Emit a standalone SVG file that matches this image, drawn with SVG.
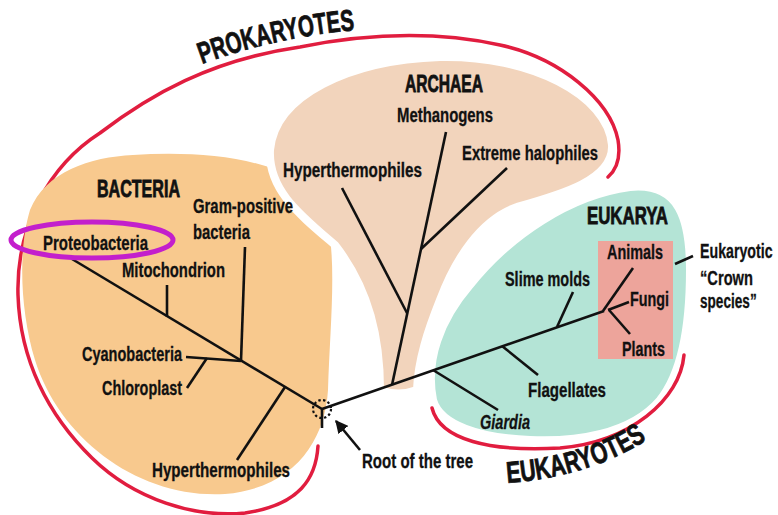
<svg xmlns="http://www.w3.org/2000/svg" width="778" height="515" viewBox="0 0 778 515">
<style>
.lbl{font-family:"Liberation Sans",Arial,sans-serif;font-weight:bold;font-size:20px;fill:#111;stroke:#111;stroke-width:0.3}
.ttl{font-family:"Liberation Sans",Arial,sans-serif;font-weight:bold;font-size:23px;fill:#111;stroke:#111;stroke-width:0.8}
.big{font-family:"Liberation Sans",Arial,sans-serif;font-weight:bold;font-size:30px;fill:#111;stroke:#111;stroke-width:0.8}
.br{fill:none;stroke:#111;stroke-width:2.6}
.red{fill:none;stroke:#E11D3F;stroke-width:3.5;stroke-linecap:round}
</style>
<defs>
<marker id="ah" viewBox="0 0 10 10" refX="9" refY="5" markerWidth="5" markerHeight="5" orient="auto" markerUnits="strokeWidth">
<path d="M0,0 L10,5 L0,10 Z" fill="#111"/>
</marker>
<path id="pkPath" d="M202,64 Q275,37 356,30"/>
<path id="ekPath" d="M507,483 Q590,477 648,439"/>
</defs>
<rect width="778" height="515" fill="#fff"/>

<g id="prokaryotes">
<path class="red" d="M318,446 C316,478 300,505 245,513 C195,518 135,500 92,458 C48,415 20,360 18,295 C16,225 50,165 100,133 C150,95 210,60 300,47 C370,33 440,32 500,45 C560,58 610,100 618,140 C621,158 616,170 608,177"/>
<text class="big"><textPath href="#pkPath" textLength="157" lengthAdjust="spacingAndGlyphs">PROKARYOTES</textPath></text>
</g>

<g id="bacteria">
<path fill="#F8C98E" d="M133,155 C210,150 290,160 320,200 C340,240 330,320 328,390 C325,440 295,488 225,494 C140,499 60,440 35,360 C20,310 18,250 30,210 C45,172 90,157 133,155 Z"/>
<text class="ttl" x="97" y="197" textLength="83" lengthAdjust="spacingAndGlyphs">BACTERIA</text>
</g>

<g id="archaea">
<path fill="#F2D4BC" stroke="#fff" stroke-width="8" d="M380,390 C380,340 370,290 335,245 C300,215 268,190 270,150 C275,95 350,60 440,57 C530,55 608,95 612,145 C614,180 560,195 517,207 C480,220 455,260 440,300 C428,330 418,360 417,390 Q398,397 380,390 Z"/>
<text class="ttl" x="405" y="92" textLength="78" lengthAdjust="spacingAndGlyphs">ARCHAEA</text>
</g>

<g id="eukarya">
<path fill="#B4E4D6" stroke="#fff" stroke-width="8" d="M433,400 C425,360 440,320 470,285 C510,235 570,195 630,187 C680,182 690,220 690,270 C690,320 684,370 660,400 C630,435 575,442 530,440 C480,438 440,425 433,400 Z"/>
<text class="ttl" x="587" y="224" textLength="81" lengthAdjust="spacingAndGlyphs">EUKARYA</text>
</g>

<g id="crown-box">
<rect x="598" y="241" width="75" height="118" fill="#EDA49B"/>
</g>

<g id="eukaryotes">
<path class="red" d="M432,408 C440,440 490,452 560,448 C630,442 680,400 684,355"/>
<text class="big"><textPath href="#ekPath" textLength="148" lengthAdjust="spacingAndGlyphs">EUKARYOTES</textPath></text>
</g>

<g id="connectors">
<line class="br" x1="322" y1="409" x2="72" y2="259"/>
<line class="br" x1="167" y1="285" x2="167" y2="317"/>
<line class="br" x1="245" y1="247" x2="241" y2="361"/>
<line class="br" x1="186" y1="357" x2="241" y2="361"/>
<line class="br" x1="207" y1="358" x2="187" y2="388"/>
<line class="br" x1="285" y1="387" x2="237" y2="460"/>
<line class="br" x1="322" y1="409" x2="322" y2="428"/>
<line class="br" x1="322" y1="409" x2="604" y2="311"/>
<line class="br" x1="392" y1="385" x2="446" y2="132"/>
<line class="br" x1="407" y1="313" x2="342" y2="188"/>
<line class="br" x1="421" y1="249" x2="507" y2="168"/>
<line class="br" x1="557" y1="327" x2="573" y2="292"/>
<line class="br" x1="502" y1="346" x2="538" y2="375"/>
<line class="br" x1="433" y1="370" x2="498" y2="410"/>
<line class="br" x1="603" y1="311" x2="633" y2="268"/>
<line class="br" x1="608" y1="310" x2="629" y2="302"/>
<line class="br" x1="609" y1="310" x2="630" y2="334"/>
<line class="br" x1="675" y1="264" x2="693" y2="256"/>
<circle cx="322" cy="409" r="9" fill="none" stroke="#111" stroke-width="2.2" stroke-dasharray="2.4 2.4"/>
<line class="br" x1="360" y1="450" x2="336" y2="421" marker-end="url(#ah)"/>
</g>

<g id="labels">
<text class="lbl" x="397" y="122" textLength="96" lengthAdjust="spacingAndGlyphs">Methanogens</text>
<text class="lbl" x="462" y="160" textLength="136" lengthAdjust="spacingAndGlyphs">Extreme halophiles</text>
<text class="lbl" x="283" y="177" textLength="139" lengthAdjust="spacingAndGlyphs">Hyperthermophiles</text>
<text class="lbl" x="193" y="213" textLength="100" lengthAdjust="spacingAndGlyphs">Gram-positive</text>
<text class="lbl" x="193" y="239" textLength="57" lengthAdjust="spacingAndGlyphs">bacteria</text>
<text class="lbl" x="43" y="250" textLength="105" lengthAdjust="spacingAndGlyphs">Proteobacteria</text>
<text class="lbl" x="122" y="277" textLength="103" lengthAdjust="spacingAndGlyphs">Mitochondrion</text>
<text class="lbl" x="82" y="361" textLength="100" lengthAdjust="spacingAndGlyphs">Cyanobacteria</text>
<text class="lbl" x="102" y="395" textLength="80" lengthAdjust="spacingAndGlyphs">Chloroplast</text>
<text class="lbl" x="152" y="477" textLength="138" lengthAdjust="spacingAndGlyphs">Hyperthermophiles</text>
<text class="lbl" x="362" y="468" textLength="111" lengthAdjust="spacingAndGlyphs">Root of the tree</text>
<text class="lbl" x="607" y="259" textLength="56" lengthAdjust="spacingAndGlyphs">Animals</text>
<text class="lbl" x="630" y="306" textLength="39" lengthAdjust="spacingAndGlyphs">Fungi</text>
<text class="lbl" x="622" y="356" textLength="43" lengthAdjust="spacingAndGlyphs">Plants</text>
<text class="lbl" x="505" y="286" textLength="85" lengthAdjust="spacingAndGlyphs">Slime molds</text>
<text class="lbl" transform="translate(700,258) scale(0.71,1)" x="0" y="0">Eukaryotic</text>
<text class="lbl" x="700" y="285" textLength="53" lengthAdjust="spacingAndGlyphs">“Crown</text>
<text class="lbl" transform="translate(700,308) scale(0.68,1)" x="0" y="0">species”</text>
<text class="lbl" x="528" y="397" textLength="78" lengthAdjust="spacingAndGlyphs">Flagellates</text>
<text class="lbl" x="480" y="429" textLength="50" lengthAdjust="spacingAndGlyphs" font-style="italic">Giardia</text>
</g>

<g id="highlight">
<ellipse cx="92" cy="240" rx="81" ry="18" fill="none" stroke="#C31FCC" stroke-width="5"/>
</g>
</svg>
